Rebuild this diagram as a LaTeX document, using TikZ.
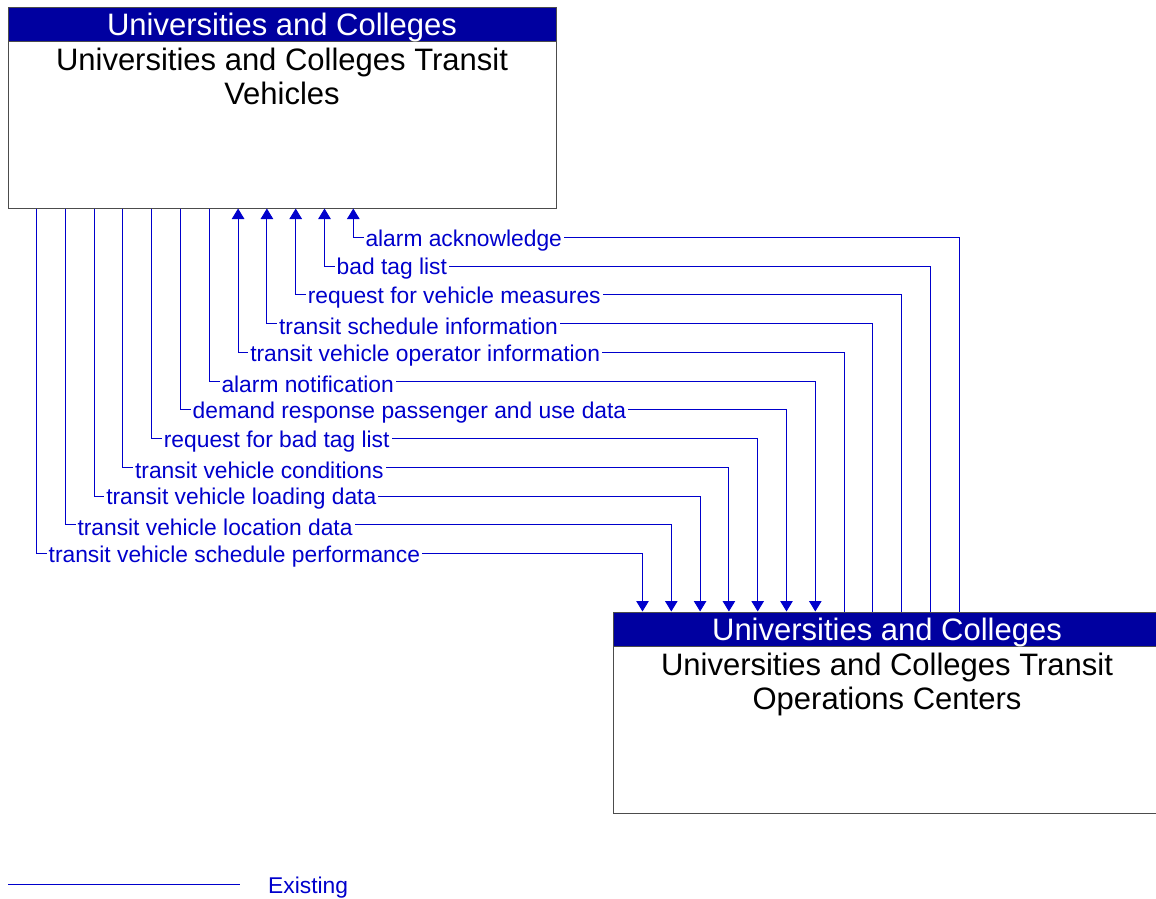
\documentclass[tikz,border=0pt]{standalone}
\usepackage{fontspec}
\setmainfont{Liberation Sans}
\usetikzlibrary{arrows.meta,calc}

\definecolor{flowblue}{RGB}{0,0,204}
\definecolor{headblue}{RGB}{0,0,160}

\tikzset{
    sysbox/.style={draw=black!70, fill=white, line width=1pt, minimum width=548pt,
        minimum height=201pt, inner sep=0pt},
    syshead/.style={draw=black!70, fill=headblue, line width=1pt, minimum width=548pt,
        minimum height=34pt, inner sep=0pt, anchor=north, text=white,
        text height=22.6pt, text depth=0pt, font=\fontsize{31}{34}\selectfont},
    sysname/.style={anchor=north, align=center, inner sep=0pt,
        font=\fontsize{31}{34}\selectfont},
    flow/.style={draw=flowblue, line width=1pt},
    tobot/.style={-{Triangle[width=12.5pt,length=10.5pt]}},
    totop/.style={{Triangle[width=12.5pt,length=10.5pt]}-},
    flowlabel/.style={anchor=west, fill=white, text=flowblue, inner xsep=2pt,
        inner ysep=1pt, yshift=-3pt, font=\fontsize{22.8}{24}\selectfont},
}

\begin{document}
\begin{tikzpicture}[x=1pt,y=-1pt]

    %\draw [help lines] (0,0) grid (1156,898);
    \useasboundingbox (0,0) rectangle (1156,898);

    % the two systems
    \node[sysbox] (uctv) at (282,107.5) {};
    \node[syshead] (uctvhead) at (uctv.north) {Universities and Colleges};
    \node[sysname, yshift=-6pt] (uctvname) at (uctvhead.south)
        {Universities and Colleges Transit\\Vehicles};

    \node[sysbox] (uctoc) at (887,712.5) {};
    \node[syshead] (uctochead) at (uctoc.north) {Universities and Colleges};
    \node[sysname, yshift=-6pt] (uctocname) at (uctochead.south)
        {Universities and Colleges Transit\\Operations Centers};

    % flows, from the lowest one up
    \foreach \k/\dir/\lab in {
            0/tobot/transit vehicle schedule performance,
            1/tobot/transit vehicle location data,
            2/tobot/transit vehicle loading data,
            3/tobot/transit vehicle conditions,
            4/tobot/request for bad tag list,
            5/tobot/demand response passenger and use data,
            6/tobot/alarm notification,
            7/totop/transit vehicle operator information,
            8/totop/transit schedule information,
            9/totop/request for vehicle measures,
            10/totop/bad tag list,
            11/totop/alarm acknowledge} {
        \coordinate (t\k) at ($(uctv.south west)+({29+28.8*\k},0)$);
        \coordinate (b\k) at ($(uctoc.north west)+({30+28.8*\k},0)$);
        \coordinate (m\k) at ($(b\k)+(0,{-58-28.75*\k})$);
        \draw[flow,\dir] (t\k) |- (m\k) -- (b\k);
        \node[flowlabel] (lab\k) at ($(t\k|-m\k)+(10,0)$) {\lab};
    }

    % legend
    \coordinate (lg1) at (8,884);
    \coordinate (lg2) at (240,884);
    \draw[flow] (lg1) -- (lg2);
    \node[anchor=west, text=flowblue, inner sep=0pt, font=\fontsize{22.8}{24}\selectfont]
        (legend) at ($(lg2)+(28,4)$) {Existing};

\end{tikzpicture}
\end{document}
